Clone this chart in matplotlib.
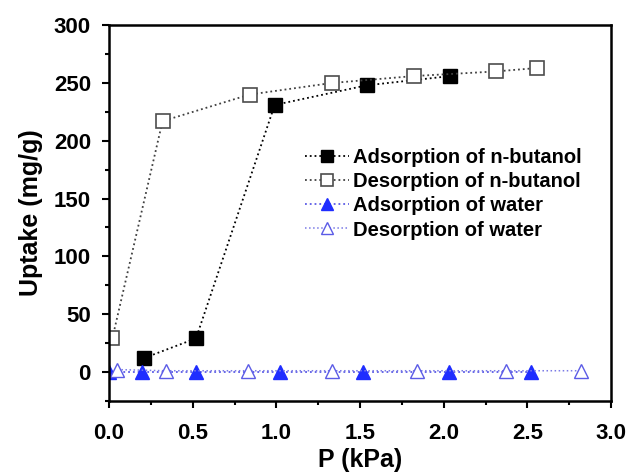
import numpy as np
import matplotlib.pyplot as plt

plt.rcParams['font.family'] = ['Liberation Sans', 'DejaVu Sans']
plt.rcParams['font.weight'] = 'bold'

# ---- data ----
p_ads_but = [0.21, 0.52, 0.99, 1.54, 2.04]
u_ads_but = [12, 29, 231, 248, 256]
p_des_but = [0.02, 0.32, 0.84, 1.33, 1.82, 2.31, 2.56]
u_des_but = [29, 217, 240, 250, 256, 260, 263]
p_ads_wat = [0.0, 0.20, 0.52, 1.02, 1.52, 2.03, 2.52]
u_ads_wat = [0, 0, 0, 0, 0, 0, 0]
p_des_wat = [0.05, 0.34, 0.83, 1.33, 1.84, 2.37, 2.82]
u_des_wat = [2, 1, 1, 1, 1, 1, 1]

fig = plt.figure(figsize=(6.3, 4.76), dpi=100)
ax = fig.add_axes([0.173, 0.158, 0.797, 0.789])

ax.plot(p_ads_but, u_ads_but, 'k:', marker='s', ms=9.5, mfc='k', mec='k', lw=1.3,
        label='Adsorption of n-butanol')
ax.plot(p_des_but, u_des_but, ':', color='0.25', marker='s', ms=9.5, mfc='white',
        mec='0.3', mew=1.2, lw=1.3, label='Desorption of n-butanol')
ax.plot(p_ads_wat, u_ads_wat, ':', color='#5a5ae6', marker='^', ms=10, mfc='#1f2dff',
        mec='#1f2dff', lw=1.3, label='Adsorption of water')
ax.plot(p_des_wat, u_des_wat, ':', color='#7b7be6', marker='^', ms=10, mfc='white',
        mec='#5b5be6', lw=1.1, label='Desorption of water')

ax.set_xlim(0, 3.0)
ax.set_ylim(-25, 300)
ax.set_xticks(np.arange(0, 3.01, 0.5))
ax.set_xticks(np.arange(0, 3.01, 0.25), minor=True)
ax.set_yticks(np.arange(0, 301, 50))
ax.set_yticks(np.arange(-25, 301, 25), minor=True)
ax.tick_params(which='major', length=5, width=1.5, labelsize=16, direction='out', pad=8)
ax.tick_params(axis='x', which='major', pad=11)
ax.tick_params(which='minor', length=3, width=1.5, direction='out')
for lbl in ax.get_xticklabels() + ax.get_yticklabels():
    lbl.set_fontweight('bold')
for s in ax.spines.values():
    s.set_linewidth(1.8)

ax.set_xlabel('P (kPa)', fontsize=18, fontweight='bold', labelpad=3)
ax.set_ylabel('Uptake (mg/g)', fontsize=18, fontweight='bold', labelpad=8)

ax.legend(loc='upper left', bbox_to_anchor=(0.39, 0.672), frameon=False,
          prop={'weight': 'bold', 'size': 14.5}, handlelength=2.2, markerscale=0.85,
          handletextpad=0.2, labelspacing=0.25, borderaxespad=0, borderpad=0)

fig.savefig('out.png', dpi=100)
